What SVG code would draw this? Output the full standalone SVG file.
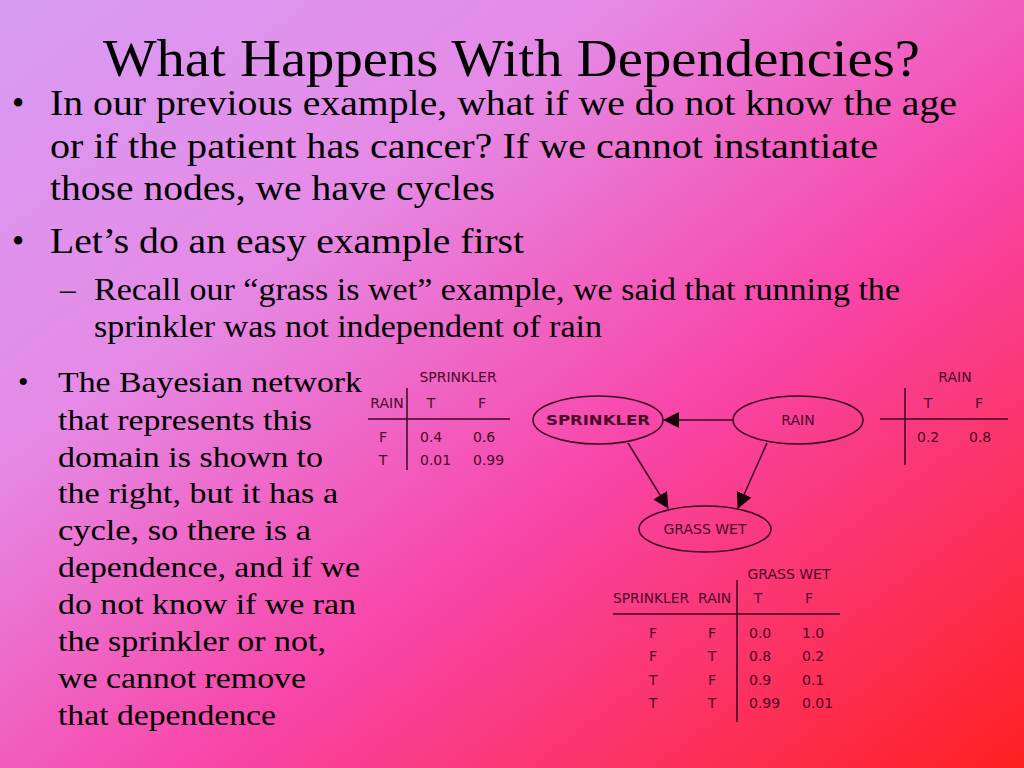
<svg xmlns="http://www.w3.org/2000/svg" width="1024" height="768" viewBox="0 0 1024 768">
<defs>
<linearGradient id="bg" x1="0" y1="0" x2="1" y2="1">
<stop offset="0" stop-color="#d89cf4"/>
<stop offset="0.3" stop-color="#e58ae6"/>
<stop offset="0.6" stop-color="#f845a8"/>
<stop offset="1" stop-color="#ff2020"/>
</linearGradient>
<marker id="ah" markerWidth="16" markerHeight="16" refX="15" refY="8" orient="auto" markerUnits="userSpaceOnUse" viewBox="0 0 16 16"><path d="M0,0 L16,8 L0,16 z" fill="#1a0008"/></marker>
<style>
.t{font-family:"Liberation Serif",serif;fill:#000}
.d{font-family:"DejaVu Sans",sans-serif;font-size:14px;fill:#4a0a28}
.ln{stroke:#3a0820;stroke-width:1.5;fill:none}
.n{fill:none;stroke:#3a0820;stroke-width:1.5}
</style>
</defs>
<rect width="1024" height="768" fill="url(#bg)"/>
<text class="t" x="103" y="76" font-size="52" textLength="817" lengthAdjust="spacingAndGlyphs">What Happens With Dependencies?</text>
<g class="t" font-size="35">
<text x="12" y="115">•</text><text x="50" y="115" textLength="907" lengthAdjust="spacingAndGlyphs">In our previous example, what if we do not know the age</text>
<text x="50" y="158" textLength="828" lengthAdjust="spacingAndGlyphs">or if the patient has cancer?  If we cannot instantiate</text>
<text x="50" y="200" textLength="445" lengthAdjust="spacingAndGlyphs">those nodes, we have cycles</text>
<text x="12" y="253">•</text><text x="50" y="253" textLength="474" lengthAdjust="spacingAndGlyphs">Let’s do an easy example first</text>
</g>
<g class="t" font-size="31">
<text x="60" y="300">–</text><text x="94" y="300" textLength="806" lengthAdjust="spacingAndGlyphs">Recall our “grass is wet” example, we said that running the</text>
<text x="94" y="337" textLength="508" lengthAdjust="spacingAndGlyphs">sprinkler was not independent of rain</text>
</g>
<g class="t" font-size="30">
<text x="18" y="392">•</text>
<text x="58" y="392" textLength="304" lengthAdjust="spacingAndGlyphs">The Bayesian network</text>
<text x="58" y="430" textLength="254" lengthAdjust="spacingAndGlyphs">that represents this</text>
<text x="58" y="467" textLength="265" lengthAdjust="spacingAndGlyphs">domain is shown to</text>
<text x="58" y="503" textLength="280" lengthAdjust="spacingAndGlyphs">the right, but it has a</text>
<text x="58" y="540" textLength="253" lengthAdjust="spacingAndGlyphs">cycle, so there is a</text>
<text x="58" y="577" textLength="302" lengthAdjust="spacingAndGlyphs">dependence, and if we</text>
<text x="58" y="614" textLength="298" lengthAdjust="spacingAndGlyphs">do not know if we ran</text>
<text x="58" y="651" textLength="268" lengthAdjust="spacingAndGlyphs">the sprinkler or not,</text>
<text x="58" y="688" textLength="248" lengthAdjust="spacingAndGlyphs">we cannot remove</text>
<text x="58" y="725" textLength="218" lengthAdjust="spacingAndGlyphs">that dependence</text>
</g>
<g id="tbl-sprinkler">
<text class="d" x="458" y="382" text-anchor="middle">SPRINKLER</text>
<text class="d" x="387" y="408" text-anchor="middle">RAIN</text>
<text class="d" x="431" y="408" text-anchor="middle">T</text>
<text class="d" x="482" y="408" text-anchor="middle">F</text>
<line class="ln" x1="368" y1="419" x2="510" y2="419"/>
<line class="ln" x1="407" y1="388" x2="407" y2="470"/>
<text class="d" x="383" y="442" text-anchor="middle">F</text>
<text class="d" x="420" y="442">0.4</text><text class="d" x="473" y="442">0.6</text>
<text class="d" x="383" y="465" text-anchor="middle">T</text>
<text class="d" x="420" y="465">0.01</text><text class="d" x="473" y="465">0.99</text>
</g>
<g id="tbl-rain">
<text class="d" x="955" y="382" text-anchor="middle">RAIN</text>
<text class="d" x="928" y="408" text-anchor="middle">T</text>
<text class="d" x="979" y="408" text-anchor="middle">F</text>
<line class="ln" x1="880" y1="419" x2="1008" y2="419"/>
<line class="ln" x1="905" y1="388" x2="905" y2="465"/>
<text class="d" x="917" y="442">0.2</text><text class="d" x="969" y="442">0.8</text>
</g>
<g id="tbl-grass">
<text class="d" x="789" y="579" text-anchor="middle">GRASS WET</text>
<text class="d" x="613" y="603" textLength="76" lengthAdjust="spacingAndGlyphs">SPRINKLER</text>
<text class="d" x="698" y="603">RAIN</text>
<text class="d" x="758" y="603" text-anchor="middle">T</text>
<text class="d" x="809" y="603" text-anchor="middle">F</text>
<line class="ln" x1="613" y1="614" x2="840" y2="614"/>
<line class="ln" x1="737" y1="580" x2="737" y2="722"/>
<g text-anchor="middle">
<text class="d" x="653" y="638">F</text><text class="d" x="712" y="638">F</text>
<text class="d" x="653" y="661">F</text><text class="d" x="712" y="661">T</text>
<text class="d" x="653" y="685">T</text><text class="d" x="712" y="685">F</text>
<text class="d" x="653" y="708">T</text><text class="d" x="712" y="708">T</text>
</g>
<text class="d" x="749" y="638">0.0</text><text class="d" x="802" y="638">1.0</text>
<text class="d" x="749" y="661">0.8</text><text class="d" x="802" y="661">0.2</text>
<text class="d" x="749" y="685">0.9</text><text class="d" x="802" y="685">0.1</text>
<text class="d" x="749" y="708">0.99</text><text class="d" x="802" y="708">0.01</text>
</g>
<g id="connectors" class="ln">
<line x1="733" y1="420" x2="664" y2="420" marker-end="url(#ah)"/>
<line x1="628" y1="443" x2="668" y2="508" marker-end="url(#ah)"/>
<line x1="767" y1="443" x2="738" y2="508" marker-end="url(#ah)"/>
</g>
<g id="node-sprinkler">
<ellipse class="n" cx="598" cy="420" rx="65" ry="24" stroke-width="2"/>
<text class="d" x="546" y="425" font-weight="bold" fill="#200010" textLength="104" lengthAdjust="spacingAndGlyphs">SPRINKLER</text>
</g>
<g id="node-rain">
<ellipse class="n" cx="798" cy="420" rx="65" ry="24"/>
<text class="d" x="798" y="425" text-anchor="middle">RAIN</text>
</g>
<g id="node-grass">
<ellipse class="n" cx="705" cy="529" rx="66" ry="23"/>
<text class="d" x="705" y="534" text-anchor="middle">GRASS WET</text>
</g>
</svg>
